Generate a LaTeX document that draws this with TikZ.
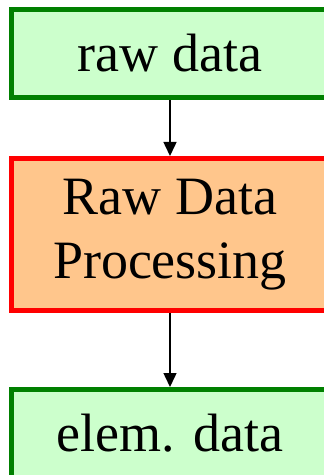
\documentclass[tikz,border=0pt]{standalone}
\usepackage{fontspec}
\setmainfont{Liberation Serif}
\usetikzlibrary{arrows.meta,positioning}
\tikzset{
	databox/.style={
			draw=green!50!black, fill=green!20, line width=2.5pt,
			minimum width=158.5pt, minimum height=44pt, inner sep=0pt
		},
	procbox/.style={
			draw=red, fill=orange!45, line width=2.5pt,
			minimum width=158.5pt, minimum height=76pt, inner sep=0pt,
			align=center
		},
	flow/.style={-{Triangle[length=7pt,width=6.5pt]}, line width=0.75pt}
}

\begin{document}
\begin{tikzpicture}[x=0.5pt, y=-0.5pt, font=\fontsize{27}{32}\selectfont]

			% Fix the page
			\useasboundingbox (0,0) rectangle (323,475);

			% Draw the boxes
			\node[databox] (raw) at (170,53.5) {raw data};
			\node[procbox, below=28pt of raw] (proc) {Raw Data\\Processing};
			\node[databox, below=37pt of proc] (elem) {elem. data};

			% Draw the arrows
			\draw[flow] (raw) -- (proc);
			\draw[flow] (proc) -- (elem);
		\end{tikzpicture}
\end{document}
